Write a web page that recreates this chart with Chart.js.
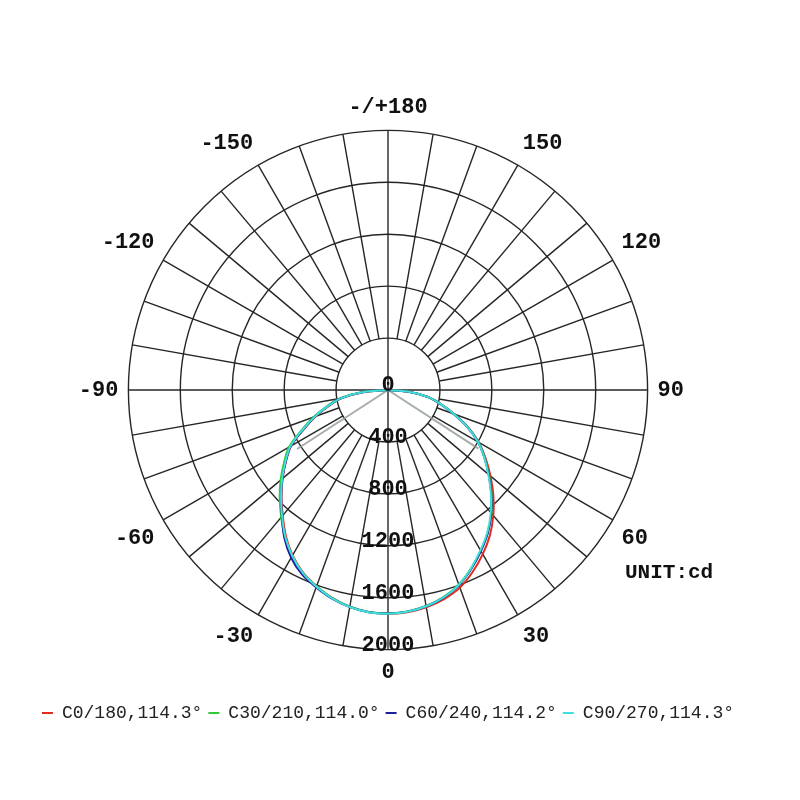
<!DOCTYPE html>
<html>
<head>
<meta charset="utf-8">
<title>Polar intensity</title>
<script src="https://cdn.jsdelivr.net/npm/chart.js@4.4.1/dist/chart.umd.min.js"></script>
<style>
    html, body { margin: 0; padding: 0; background: #fff; }
    #wrap { width: 800px; height: 800px; }
</style>
</head>
<body>
<div id="wrap"><canvas id="polar" width="800" height="800"></canvas></div>
<script>
// gamma angles of the readings: 0 = straight down, right side positive
const gamma = [-90, -85, -80, -75, -70, -65, -60, -55, -50, -45, -40, -35, -30, -25, -20, -15, -10, -5,
               0, 5, 10, 15, 20, 25, 30, 35, 40, 45, 50, 55, 60, 65, 70, 75, 80, 85, 90];

// intensity in cd
const c0_180 = [0, 190, 360, 472, 592, 716, 862, 960, 1060, 1160, 1262, 1372, 1470, 1550, 1608, 1658, 1695, 1716,
                1724,
                1718, 1700, 1668, 1620, 1545, 1460, 1368, 1262, 1148, 1030, 918, 808, 682, 545, 425, 318, 172, 0];
const c30_210 = [0, 205, 378, 490, 612, 735, 882, 978, 1080, 1180, 1280, 1385, 1478, 1556, 1610, 1660, 1696, 1716,
                 1720,
                 1712, 1690, 1652, 1595, 1515, 1428, 1340, 1240, 1128, 1015, 910, 805, 678, 540, 420, 312, 168, 0];
const c60_240 = [0, 198, 368, 478, 598, 718, 866, 962, 1062, 1164, 1272, 1392, 1492, 1568, 1618, 1664, 1698, 1718,
                 1722,
                 1714, 1692, 1656, 1600, 1520, 1432, 1342, 1238, 1125, 1012, 906, 800, 674, 538, 418, 312, 168, 0];
const c90_270 = [0, 200, 370, 480, 600, 725, 870, 965, 1065, 1165, 1270, 1380, 1475, 1555, 1612, 1662, 1698, 1718,
                 1723,
                 1715, 1692, 1655, 1597, 1515, 1425, 1335, 1232, 1120, 1008, 905, 800, 675, 540, 420, 315, 170, 0];

const curveNames = ["C0/180", "C30/210", "C60/240", "C90/270"];
const beamAngles = [114.3, 114.0, 114.2, 114.3];
const curveColors = ["#e22a1e", "#2fca35", "#1f1f9e", "#3ee0dc"];

// grey beam edge lines (half angle, cd where they stop)
const beamEdgeAngles = [-57, 57];
const beamEdgeValues = [835, 830];

// axis labels clockwise from the top, every 30 degrees
const angleTicks = ["-/+180", "150", "120", "90", "60", "30", "0", "-30", "-60", "-90", "-120", "-150"];
const intensityTicks = [0, 400, 800, 1200, 1600, 2000];

const GRID = "#262626";
const MONO = "'Liberation Mono', 'DejaVu Sans Mono', monospace";

// one slot per degree, index 0 at the top, going clockwise: angle = 180 - index
const N = 360;
const labels = [];
for (let i = 0; i < N; i++) {
    labels.push(i % 30 === 0 ? angleTicks[i / 30] : "");
}

function aSerie(valores) {
    const arr = new Array(N).fill(null);
    gamma.forEach((g, k) => { arr[180 - g] = valores[k]; });
    return arr;
}

function beamLine(k) {
    const arr = new Array(N).fill(null);
    arr[180] = 0;
    arr[180 - beamEdgeAngles[k]] = beamEdgeValues[k];
    return arr;
}

const curves = [c0_180, c30_210, c60_240, c90_270];

const datasets = curves.map((c, i) => ({
    label: curveNames[i] + "," + beamAngles[i].toFixed(1) + "°",
    data: aSerie(c),
    borderColor: curveColors[i],
    backgroundColor: curveColors[i],
    borderWidth: 2,
    tension: 0.3,
    fill: false,
    spanGaps: true,
    pointRadius: 0,
    order: 4 - i
}));

beamEdgeAngles.forEach((a, k) => {
    datasets.push({
        label: "beam" + k,
        data: beamLine(k),
        borderColor: "rgba(150,158,158,0.85)",
        borderWidth: 2,
        tension: 0,
        fill: false,
        spanGaps: true,
        pointRadius: 0,
        order: 10
    });
});

// spokes every 10 degrees, from the 400 ring outwards (the cardinal ones come from angleLines)
const spokes = {
    id: "spokes",
    beforeDatasetsDraw(chart) {
        const r = chart.scales.r;
        const ctx = chart.ctx;
        const dIn = r.getDistanceFromCenterForValue(intensityTicks[1]);
        const dOut = r.getDistanceFromCenterForValue(intensityTicks[intensityTicks.length - 1]);
        ctx.save();
        ctx.strokeStyle = GRID;
        ctx.lineWidth = 1.4;
        for (let i = 0; i < N; i += 10) {
            if (i % 90 === 0) continue;
            const a = r.getPointPosition(i, dIn);
            const b = r.getPointPosition(i, dOut);
            ctx.beginPath();
            ctx.moveTo(a.x, a.y);
            ctx.lineTo(b.x, b.y);
            ctx.stroke();
        }
        ctx.restore();
    }
};

// cd labels down the 0 degree axis + unit
const textos = {
    id: "textos",
    afterDatasetsDraw(chart) {
        const r = chart.scales.r;
        const ctx = chart.ctx;
        ctx.save();
        ctx.fillStyle = "#111";
        ctx.font = "bold 22px " + MONO;
        ctx.textAlign = "center";
        ctx.textBaseline = "alphabetic";
        intensityTicks.forEach(v => {
            const p = r.getPointPosition(180, r.getDistanceFromCenterForValue(v));
            ctx.fillText(String(v), p.x, p.y + 1);
        });
        ctx.font = "bold 21px " + MONO;
        ctx.textAlign = "left";
        ctx.textBaseline = "middle";
        ctx.fillText("UNIT:cd", r.xCenter + 237, r.yCenter + 183);
        ctx.restore();
    }
};

new Chart(document.getElementById("polar"), {
    type: "radar",
    data: { labels, datasets },
    options: {
        responsive: false,
        animation: false,
        layout: { padding: { left: 30, right: 54, top: 94, bottom: 68 } },
        scales: {
            r: {
                min: 0,
                max: 2000,
                ticks: { display: false, stepSize: 400 },
                grid: { circular: true, color: GRID, lineWidth: 1.4 },
                angleLines: {
                    color: GRID,
                    lineWidth: ctx => (ctx.index % 90 === 0 ? 1.4 : 0)
                },
                pointLabels: {
                    color: "#111",
                    padding: 10,
                    font: { family: MONO, size: 22, weight: "bold" }
                }
            }
        },
        plugins: {
            legend: {
                position: "bottom",
                title: { display: true, text: " ", padding: 0, font: { size: 9 } },
                labels: {
                    boxWidth: 11,
                    boxHeight: 2,
                    padding: 6,
                    color: "#222",
                    font: { family: MONO, size: 18 },
                    generateLabels: () => curveNames.map((n, i) => ({
                        text: n + "," + beamAngles[i].toFixed(1) + "°",
                        fillStyle: curveColors[i],
                        strokeStyle: curveColors[i],
                        lineWidth: 0,
                        hidden: false,
                        datasetIndex: i,
                        fontColor: "#222"
                    }))
                }
            },
            tooltip: { enabled: false }
        }
    },
    plugins: [spokes, textos]
});
</script>
</body>
</html>
